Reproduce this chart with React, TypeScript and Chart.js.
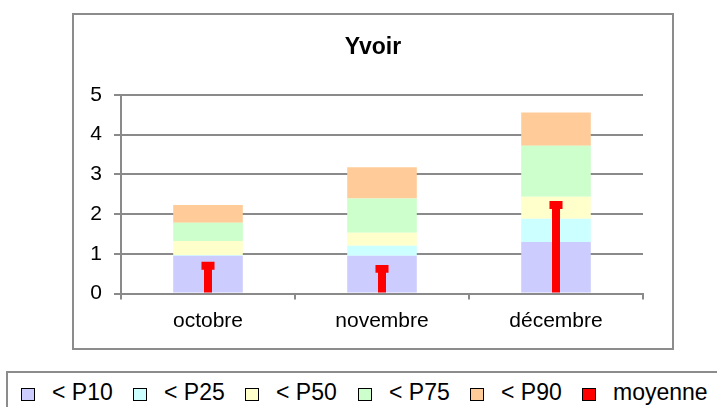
import React, { useEffect, useRef } from 'react';
import { Chart, registerables } from 'chart.js';

Chart.register(...registerables);

// ---- data ----
const categories = ['octobre', 'novembre', 'décembre'];
const p10 = [0.95, 0.95, 1.3];
const p25 = [0.97, 1.2, 1.88];
const p50 = [1.32, 1.53, 2.44];
const p75 = [1.78, 2.39, 3.72];
const p90 = [2.23, 3.18, 4.56];
const moyenne = [0.7, 0.62, 2.23];
const seriesLabels = ['< P10', '< P25', '< P50', '< P75', '< P90', 'moyenne'];
const seriesColors = ['#CCCCFF', '#CCFFFF', '#FFFFCC', '#CCFFCC', '#FFCC99', '#FF0000'];
const yMin = 0;
const yMax = 5;
const yStep = 1;
const titleText = 'Yvoir';

const CAP_HALF = 0.1;
const FONT = "'Liberation Sans', Arial, sans-serif";
const GRID = '#8a8a8a';

export default function App() {
  const ref = useRef<HTMLCanvasElement | null>(null);

  useEffect(() => {
    if (!ref.current) return;
    const levels = [p10, p25, p50, p75, p90];
    const pctSets = levels.map((arr, i) => ({
      type: 'bar' as const,
      label: seriesLabels[i],
      data: arr.map((v, j) => [i === 0 ? 0 : levels[i - 1][j], v]),
      backgroundColor: seriesColors[i],
      borderWidth: 0,
      grouped: false,
      barPercentage: 0.4,
      categoryPercentage: 1,
      order: 2,
    }));
    const stem = {
      type: 'bar' as const,
      label: seriesLabels[5],
      data: moyenne.map((v) => [0, v]),
      backgroundColor: seriesColors[5],
      borderWidth: 0,
      grouped: false,
      barPercentage: 0.046,
      categoryPercentage: 1,
      order: 1,
    };
    const cap = {
      type: 'bar' as const,
      label: seriesLabels[5] + ' cap',
      data: moyenne.map((v) => [v - CAP_HALF, v + CAP_HALF]),
      backgroundColor: seriesColors[5],
      borderWidth: 0,
      grouped: false,
      barPercentage: 0.075,
      categoryPercentage: 1,
      order: 0,
    };

    Chart.defaults.font.family = FONT;
    const chart = new Chart(ref.current, {
      type: 'bar',
      data: { labels: categories, datasets: [...pctSets, stem, cap] as any },
      options: {
        responsive: false,
        animation: false,
        layout: { padding: 0 },
        plugins: {
          legend: { display: false },
          tooltip: { enabled: false },
          title: {
            display: true,
            text: titleText,
            color: '#000',
            font: { size: 23, weight: 'bold', family: FONT },
            padding: { top: 20, bottom: 33.4 },
          },
        },
        scales: {
          x: {
            grid: {
              display: true,
              drawOnChartArea: false,
              drawTicks: true,
              tickLength: 6,
              color: GRID,
              lineWidth: 2,
              offset: true,
            },
            border: { display: true, color: GRID, width: 2 },
            ticks: { color: '#000', font: { size: 21, family: FONT }, padding: 9 },
            afterFit: (s: any) => {
              s.height = 55.5;
            },
          },
          y: {
            min: yMin,
            max: yMax,
            ticks: { stepSize: yStep, color: '#000', font: { size: 21, family: FONT }, padding: 12 },
            grid: { color: GRID, lineWidth: 2, tickLength: 7 },
            border: { display: true, color: GRID, width: 2 },
            afterFit: (s: any) => {
              s.width = 48;
            },
          },
          yRight: {
            position: 'right',
            display: true,
            grid: { display: false },
            ticks: { display: false },
            border: { display: false },
            afterFit: (s: any) => {
              s.width = 30;
            },
          },
        },
      } as any,
    });
    return () => chart.destroy();
  }, []);

  return (
    <div
      style={{
        position: 'fixed',
        left: 0,
        top: 0,
        width: 717,
        height: 407,
        overflow: 'hidden',
        background: '#fff',
        fontFamily: FONT,
      }}
    >
      <div
        style={{
          position: 'absolute',
          left: 72,
          top: 13,
          width: 598,
          height: 333,
          border: '2px solid #8c8c8c',
        }}
      />
      <canvas
        ref={ref}
        width={600}
        height={335}
        style={{ position: 'absolute', left: 73, top: 14, width: 600, height: 335 }}
      />
      <div
        style={{
          position: 'absolute',
          left: 6,
          top: 371,
          width: 760,
          height: 60,
          border: '2px solid #8c8c8c',
        }}
      />
      {seriesLabels.map((lab, i) => {
        const sq = [21, 133, 245, 358, 470, 582][i];
        return (
          <React.Fragment key={lab}>
            <div
              style={{
                position: 'absolute',
                left: sq,
                top: 388,
                width: 12,
                height: 11,
                background: seriesColors[i],
                border: '1px solid #000',
              }}
            />
            <div
              style={{
                position: 'absolute',
                left: sq + 31,
                top: 379,
                fontSize: 23,
                lineHeight: '27px',
                color: '#000',
                whiteSpace: 'nowrap',
              }}
            >
              {lab}
            </div>
          </React.Fragment>
        );
      })}
    </div>
  );
}
